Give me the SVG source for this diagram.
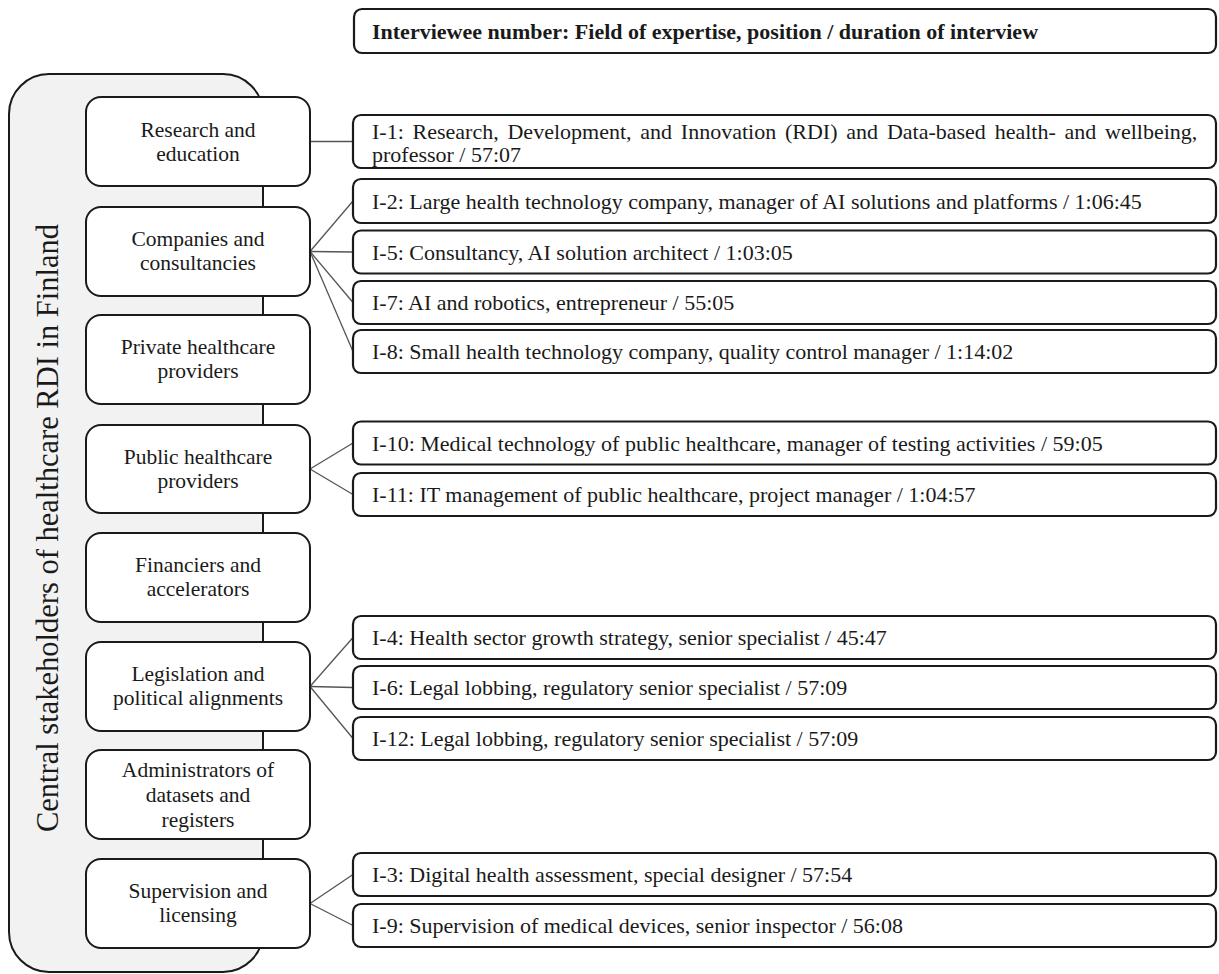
<svg xmlns="http://www.w3.org/2000/svg" width="1219" height="974" viewBox="0 0 1219 974">
<style>
.container{fill:#f2f2f2;stroke:#1a1a1a;stroke-width:2}
.node{fill:#ffffff;stroke:#1a1a1a;stroke-width:2}
.box{fill:#ffffff;stroke:#1a1a1a;stroke-width:2.2}
.conn{stroke:#555555;stroke-width:1.3;fill:none}
text{font-family:"Liberation Serif","Times New Roman",serif;fill:#1a1a1a}
.nt{font-size:21.5px;text-anchor:middle}
.bt{font-size:22px}
.ht{font-size:22px;font-weight:bold}
.title{font-size:30.5px;text-anchor:middle}
</style>
<rect width="1219" height="974" fill="#ffffff"/>
<g id="container">
<rect class="container" x="9" y="74" width="254" height="898" rx="40" ry="40"/>
<text class="title" transform="translate(58,528) rotate(-90)">Central stakeholders of healthcare RDI in Finland</text>
</g>
<g id="header">
<rect class="box" x="354" y="9" width="862" height="44" rx="8"/>
<text class="ht" x="372" y="38.5">Interviewee number: Field of expertise, position / duration of interview</text>
</g>
<g id="connectors">
<line class="conn" x1="310" y1="141.5" x2="353" y2="141.5"/>
<line class="conn" x1="310" y1="251.5" x2="353" y2="201"/>
<line class="conn" x1="310" y1="251.5" x2="353" y2="252"/>
<line class="conn" x1="310" y1="251.5" x2="353" y2="302.5"/>
<line class="conn" x1="310" y1="251.5" x2="353" y2="351.5"/>
<line class="conn" x1="310" y1="469" x2="353" y2="443"/>
<line class="conn" x1="310" y1="469" x2="353" y2="494.5"/>
<line class="conn" x1="310" y1="686.5" x2="353" y2="637.5"/>
<line class="conn" x1="310" y1="686.5" x2="353" y2="687.5"/>
<line class="conn" x1="310" y1="686.5" x2="353" y2="738.5"/>
<line class="conn" x1="310" y1="903.5" x2="353" y2="874.5"/>
<line class="conn" x1="310" y1="903.5" x2="353" y2="925.5"/>
</g>
<g id="n-research">
<rect class="node" x="86" y="97" width="224" height="89" rx="15"/>
<text class="nt" x="198" y="137">Research and</text>
<text class="nt" x="198" y="161">education</text>
</g>
<g id="n-companies">
<rect class="node" x="86" y="207" width="224" height="89" rx="15"/>
<text class="nt" x="198" y="246">Companies and</text>
<text class="nt" x="198" y="270">consultancies</text>
</g>
<g id="n-private">
<rect class="node" x="86" y="315" width="224" height="89" rx="15"/>
<text class="nt" x="198" y="354">Private healthcare</text>
<text class="nt" x="198" y="378">providers</text>
</g>
<g id="n-public">
<rect class="node" x="86" y="425" width="224" height="88" rx="15"/>
<text class="nt" x="198" y="464">Public healthcare</text>
<text class="nt" x="198" y="488">providers</text>
</g>
<g id="n-financiers">
<rect class="node" x="86" y="533" width="224" height="89" rx="15"/>
<text class="nt" x="198" y="572">Financiers and</text>
<text class="nt" x="198" y="596">accelerators</text>
</g>
<g id="n-legislation">
<rect class="node" x="86" y="642" width="224" height="89" rx="15"/>
<text class="nt" x="198" y="681">Legislation and</text>
<text class="nt" x="198" y="705">political alignments</text>
</g>
<g id="n-administrators">
<rect class="node" x="86" y="750" width="224" height="89" rx="15"/>
<text class="nt" x="198" y="777">Administrators of</text>
<text class="nt" x="198" y="802">datasets and</text>
<text class="nt" x="198" y="827">registers</text>
</g>
<g id="n-supervision">
<rect class="node" x="86" y="859" width="224" height="89" rx="15"/>
<text class="nt" x="198" y="898">Supervision and</text>
<text class="nt" x="198" y="922">licensing</text>
</g>
<g id="i-1">
<rect class="box" x="353" y="115" width="863" height="53" rx="8"/>
<text class="bt" x="372" y="139" word-spacing="3.3">I-1: Research, Development, and Innovation (RDI) and Data-based health- and wellbeing,</text>
<text class="bt" x="372" y="162">professor / 57:07</text>
</g>
<g id="i-2">
<rect class="box" x="353" y="179" width="863" height="44" rx="8"/>
<text class="bt" x="372" y="209">I-2: Large health technology company, manager of AI solutions and platforms / 1:06:45</text>
</g>
<g id="i-5">
<rect class="box" x="353" y="230.5" width="863" height="43" rx="8"/>
<text class="bt" x="372" y="259.5">I-5: Consultancy, AI solution architect / 1:03:05</text>
</g>
<g id="i-7">
<rect class="box" x="353" y="281" width="863" height="43" rx="8"/>
<text class="bt" x="372" y="310">I-7: AI and robotics, entrepreneur / 55:05</text>
</g>
<g id="i-8">
<rect class="box" x="353" y="330" width="863" height="43" rx="8"/>
<text class="bt" x="372" y="359">I-8: Small health technology company, quality control manager / 1:14:02</text>
</g>
<g id="i-10">
<rect class="box" x="353" y="421.5" width="863" height="43" rx="8"/>
<text class="bt" x="372" y="450.5">I-10: Medical technology of public healthcare, manager of testing activities / 59:05</text>
</g>
<g id="i-11">
<rect class="box" x="353" y="473" width="863" height="43" rx="8"/>
<text class="bt" x="372" y="502">I-11: IT management of public healthcare, project manager / 1:04:57</text>
</g>
<g id="i-4">
<rect class="box" x="353" y="616" width="863" height="43" rx="8"/>
<text class="bt" x="372" y="645">I-4: Health sector growth strategy, senior specialist / 45:47</text>
</g>
<g id="i-6">
<rect class="box" x="353" y="666" width="863" height="43" rx="8"/>
<text class="bt" x="372" y="695">I-6: Legal lobbing, regulatory senior specialist / 57:09</text>
</g>
<g id="i-12">
<rect class="box" x="353" y="717" width="863" height="43" rx="8"/>
<text class="bt" x="372" y="746">I-12: Legal lobbing, regulatory senior specialist / 57:09</text>
</g>
<g id="i-3">
<rect class="box" x="353" y="853" width="863" height="43" rx="8"/>
<text class="bt" x="372" y="882">I-3: Digital health assessment, special designer / 57:54</text>
</g>
<g id="i-9">
<rect class="box" x="353" y="904" width="863" height="43" rx="8"/>
<text class="bt" x="372" y="933">I-9: Supervision of medical devices, senior inspector / 56:08</text>
</g>
</svg>
